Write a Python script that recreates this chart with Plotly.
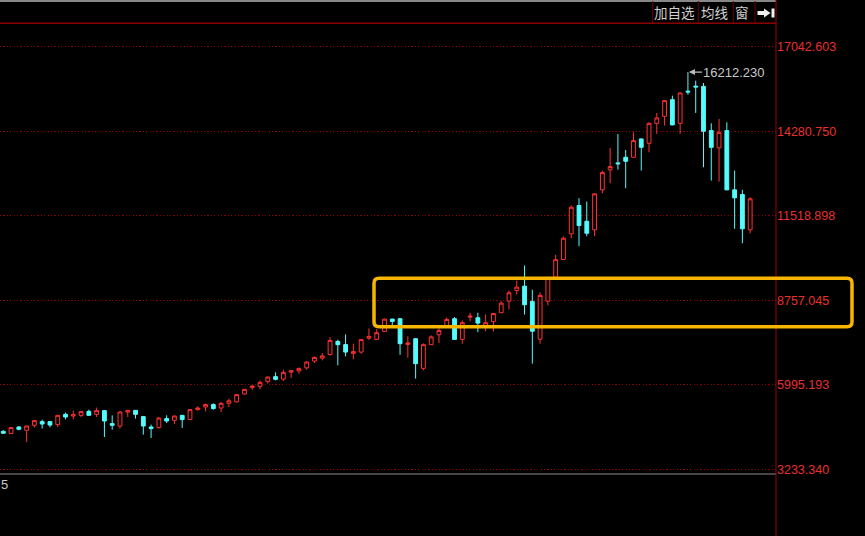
import plotly.graph_objects as go

# ---------------- data ----------------
idx = list(range(97))

open_ = [4472, 4397, 4612, 4505, 4668, 4789, 4789, 4691, 5027, 4971,
         4994, 5125, 5027, 5148, 4723, 4645, 5102, 5157, 4952, 4612,
         4593, 4887, 4831, 4994, 4854, 5180, 5265, 5344, 5233, 5386,
         5435, 5690, 5899, 5941, 6104, 6258, 6179, 6405, 6447, 6545,
         6767, 6865, 6979, 7410, 7306, 7019, 7061, 7515, 7476, 7737,
         8139, 8152, 7312, 7499, 6529, 7303, 7629, 7877, 8152, 7476,
         8201, 8184, 7910, 8057, 8347, 8726, 9075, 9216, 8717, 7482,
         8726, 9510, 10088, 10927, 11851, 11338, 11057, 12363, 13016, 13245,
         13428, 13428, 14028, 13885, 14538, 14766, 15312, 14538, 15589, 15753,
         15746, 14300, 13735, 14300, 12363, 12210, 11057]

high = [4505, 4603, 4645, 4658, 4831, 4854, 4798, 5004, 5082, 5148,
        5135, 5180, 5246, 5167, 4994, 5125, 5180, 5167, 4962, 4691,
        4939, 4994, 4984, 5004, 5190, 5288, 5376, 5386, 5429, 5540,
        5680, 5853, 5974, 6127, 6258, 6398, 6486, 6463, 6552, 6767,
        6921, 7028, 7551, 7466, 7639, 7335, 7476, 7835, 7819, 8152,
        8152, 8161, 7580, 7509, 7345, 7606, 7835, 8194, 8204, 8096,
        8347, 8347, 8292, 8334, 8726, 9075, 9402, 9892, 9098, 9017,
        9533, 10241, 10839, 11851, 12089, 11981, 12252, 12994, 13735, 14192,
        13669, 14244, 14038, 14571, 14877, 15302, 15442, 15550, 16212.23, 15932,
        15857, 14538, 14682, 14571, 12994, 12363, 12122]

low = [4390, 4390, 4505, 4123, 4593, 4560, 4603, 4612, 4864, 4864,
       4939, 4971, 4939, 4286, 4527, 4560, 4939, 4887, 4364, 4253,
       4560, 4743, 4710, 4580, 4841, 5148, 5125, 5180, 5102, 5265,
       5419, 5670, 5827, 5843, 6029, 6137, 6114, 6212, 6356, 6486,
       6702, 6790, 6953, 6627, 6921, 6823, 7009, 7459, 7459, 7721,
       7877, 6970, 6878, 6193, 6463, 7286, 7355, 7868, 7459, 7335,
       8073, 7714, 7747, 7737, 8341, 8455, 8945, 8285, 6682, 7335,
       8586, 9500, 10078, 10783, 10522, 10848, 10848, 12252, 12579, 13026,
       12416, 13418, 12994, 13591, 14192, 14463, 14479, 14192, 15475, 14877,
       13101, 12667, 12634, 12350, 11090, 10620, 10946]

close = [4407, 4593, 4537, 4645, 4821, 4710, 4677, 4994, 4939, 5017,
         5115, 4994, 5148, 4808, 4668, 5102, 5148, 5027, 4645, 4560,
         4906, 4808, 4971, 4854, 5180, 5233, 5344, 5213, 5386, 5468,
         5670, 5843, 5951, 6072, 6245, 6170, 6398, 6454, 6529, 6735,
         6888, 6937, 7443, 7303, 7061, 7077, 7469, 7574, 7694, 8139,
         8063, 7335, 7361, 6682, 7303, 7557, 7769, 8129, 7476, 8021,
         8237, 8008, 8021, 8324, 8661, 9000, 9183, 8609, 7743, 8912,
         9477, 10081, 10783, 11795, 11198, 10946, 12233, 12928, 13124, 13216,
         13297, 13973, 13754, 14538, 14714, 15279, 14486, 15530, 15563, 15726,
         14277, 13754, 14244, 12363, 12102, 11090, 12070]

tick_vals = [17042.603, 14280.750, 11518.898, 8757.045, 5995.193, 3233.340]
tick_text = ["17042.603", "14280.750", "11518.898", "8757.045", "5995.193", "3233.340"]

peak_idx = 88
peak_val = 16212.230
peak_label = "16212.230"

toolbar_labels = ["加自选", "均线", "窗"]

# ---------------- styling helpers ----------------
W, H = 865, 536
L, R, T, B = 0, 89, 23, 63
PW, PH = W - L - R, H - T - B


def px(x):
    return (x - L) / PW


def py(y):
    return (H - B - y) / PH


UP = "#ff3232"
DOWN = "#54fcfc"

fig = go.Figure()
fig.add_trace(go.Candlestick(
    x=idx, open=open_, high=high, low=low, close=close,
    increasing=dict(line=dict(color=UP, width=1), fillcolor="#000000"),
    decreasing=dict(line=dict(color=DOWN, width=1), fillcolor=DOWN),
    whiskerwidth=0, hoverinfo="skip", showlegend=False,
))

shapes = []
# frame lines
shapes.append(dict(type="line", xref="paper", yref="paper", x0=px(0), x1=px(776), y0=py(1), y1=py(1),
                   line=dict(color="#b4b4b4", width=1.5)))
shapes.append(dict(type="line", xref="paper", yref="paper", x0=px(0), x1=px(776), y0=py(23.3), y1=py(23.3),
                   line=dict(color="#8a0000", width=1.5)))
shapes.append(dict(type="line", xref="paper", yref="paper", x0=px(0), x1=px(776), y0=py(474), y1=py(474),
                   line=dict(color="#5e5e5e", width=1.5)))
shapes.append(dict(type="line", xref="paper", yref="paper", x0=px(776), x1=px(776), y0=py(0), y1=py(536),
                   line=dict(color="#a00000", width=1)))
# toolbar separators
for sx in [652.7, 698.3, 733.3, 755.0]:
    shapes.append(dict(type="line", xref="paper", yref="paper", x0=px(sx), x1=px(sx), y0=py(1), y1=py(23),
                       line=dict(color="#6e0000", width=1)))
# arrow icon
icon = (f"M {px(757.5)},{py(11)} L {px(764)},{py(11)} L {px(764)},{py(8.5)} L {px(770.5)},{py(13)} "
        f"L {px(764)},{py(17.5)} L {px(764)},{py(15)} L {px(757.5)},{py(15)} Z "
        f"M {px(771.5)},{py(8.5)} L {px(774.5)},{py(8.5)} L {px(774.5)},{py(17.5)} L {px(771.5)},{py(17.5)} Z")
shapes.append(dict(type="path", xref="paper", yref="paper", path=icon, fillcolor="#f0f0f0",
                   line=dict(width=0)))
# yellow highlight box (rounded rectangle)
x1, x2, y1, y2, r = 374, 852, 278.3, 326.7, 5
box = (f"M {px(x1 + r)},{py(y1)} L {px(x2 - r)},{py(y1)} Q {px(x2)},{py(y1)} {px(x2)},{py(y1 + r)} "
       f"L {px(x2)},{py(y2 - r)} Q {px(x2)},{py(y2)} {px(x2 - r)},{py(y2)} "
       f"L {px(x1 + r)},{py(y2)} Q {px(x1)},{py(y2)} {px(x1)},{py(y2 - r)} "
       f"L {px(x1)},{py(y1 + r)} Q {px(x1)},{py(y1)} {px(x1 + r)},{py(y1)} Z")
shapes.append(dict(type="path", xref="paper", yref="paper", path=box,
                   line=dict(color="#f7b600", width=3.5)))

annotations = []
centers = [674.5, 714.7, 741.7]
for lab, cx in zip(toolbar_labels, centers):
    annotations.append(dict(xref="paper", yref="paper", x=px(cx), y=py(12.5), text=lab, showarrow=False,
                            xanchor="center", yanchor="middle",
                            font=dict(family="Noto Sans CJK SC", size=13.5, color="#d0d0d0")))
annotations.append(dict(x=peak_idx, y=peak_val, xref="x", yref="y", text=peak_label,
                        showarrow=True, ax=46, ay=0, arrowhead=2, arrowsize=1, arrowwidth=1.2,
                        arrowcolor="#bdbdbd", standoff=1,
                        font=dict(family="Liberation Sans", size=13, color="#c8c8c8")))
annotations.append(dict(xref="paper", yref="paper", x=px(-1), y=py(484), text="5", showarrow=False,
                        xanchor="left", yanchor="middle",
                        font=dict(family="Liberation Sans", size=13, color="#c8c8c8")))

fig.update_layout(
    width=W, height=H, autosize=False,
    margin=dict(l=L, r=R, t=T, b=B, pad=0),
    paper_bgcolor="#000000", plot_bgcolor="#000000",
    showlegend=False, hovermode=False,
    shapes=shapes, annotations=annotations,
    xaxis=dict(range=[-0.42, 99.32], showgrid=False, zeroline=False, showticklabels=False,
               showline=False, ticks="", rangeslider=dict(visible=False), fixedrange=True),
    yaxis=dict(range=[3109, 17817], side="right", tickvals=tick_vals, ticktext=tick_text,
               showgrid=True, gridcolor="#8c0000", gridwidth=1, griddash="1.2px,2.2px",
               zeroline=False, showline=False, ticks="",
               tickfont=dict(family="Liberation Sans", size=12.5, color="#e8302e"),
               fixedrange=True),
)

fig.write_html("out.html", config={"displayModeBar": False},
               post_script="document.body.style.margin='0';document.body.style.background='#000';")
